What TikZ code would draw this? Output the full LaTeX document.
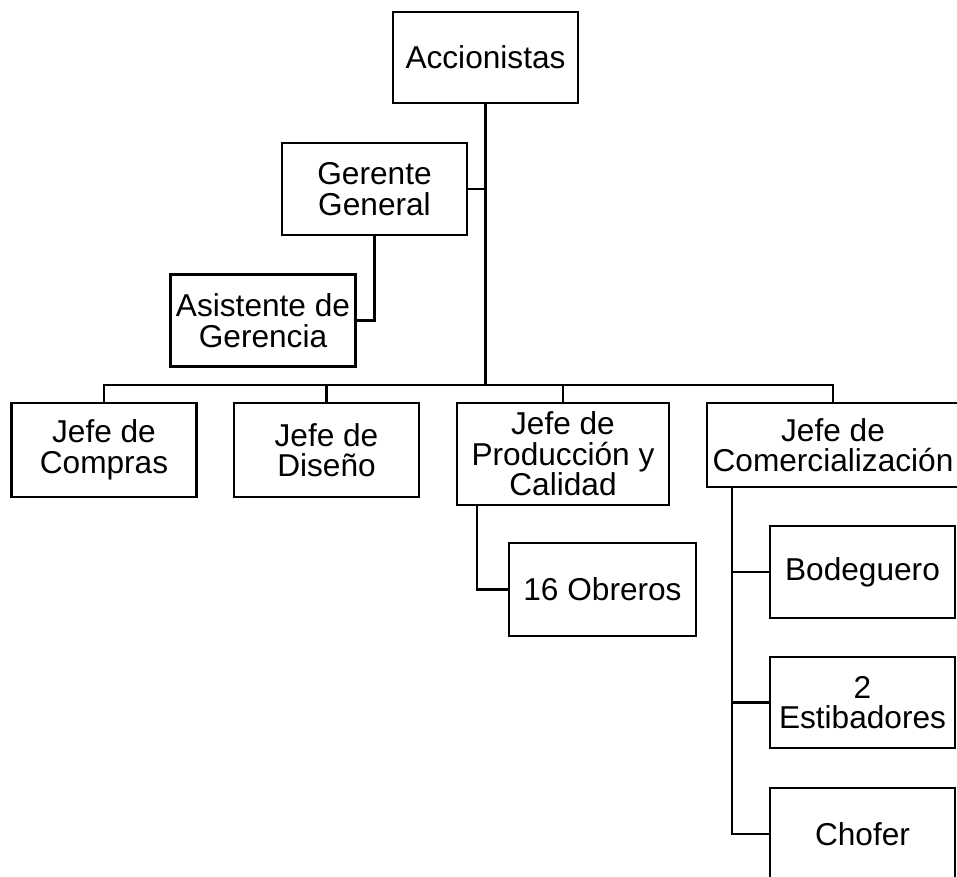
\documentclass[tikz,border=0pt]{standalone}
\usepackage{fontspec}
\setmainfont{Liberation Sans}
\tikzset{
  box/.style={draw, line width=1.3pt, align=center, inner sep=1pt,
    minimum width=3.7cm, minimum height=1.84cm,
    font=\fontsize{18}{17.4}\selectfont},
  wire/.style={line width=1.3pt}
}
\begin{document}
\begin{tikzpicture}[x=0.02cm,y=-0.02cm]
  \useasboundingbox (0,0) rectangle (957,876);
  \node[box, minimum height=1.82cm] (acc) at (485.5,57.5) {Accionistas};
  \node[box] (ger) at (374.5,189) {Gerente\\General};
  \node[box] (asi) at (263,320.5) {Asistente de\\Gerencia};
  \node[box, minimum height=1.88cm] (com) at (104,450) {Jefe de\\Compras};
  \node[box, minimum height=1.88cm] (dis) at (326.5,450) {Jefe de\\Diseño};
  \node[box, minimum width=4.24cm, minimum height=2.04cm] (pro) at (563,454) {Jefe de\\Producción y\\Calidad};
  \node[box, minimum width=5.04cm, minimum height=1.68cm] (cmz) at (833,445) {Jefe de\\Comercialización};
  \node[box, minimum width=3.74cm, minimum height=1.86cm] (obr) at (602.5,589.5) {16 Obreros};
  \node[box] (bod) at (862.5,572) {Bodeguero};
  \node[box, minimum height=1.82cm] (est) at (862.5,702.5) {2\\Estibadores};
  \node[box] (cho) at (862.5,834) {Chofer};
  \coordinate (bus) at (485.5,385);
  \coordinate (prosp) at ([xshift=0.42cm]pro.south west);
  \coordinate (cmzsp) at ([xshift=0.52cm]cmz.south west);
  \draw[wire] (acc.south) -- (bus);
  \draw[wire] (ger.east) -- (ger.east -| acc.south);
  \draw[wire] (ger.south) |- (asi.east);
  \draw[wire] (com.north) |- (bus);
  \draw[wire] (dis.north) |- (bus);
  \draw[wire] (pro.north) |- (bus);
  \draw[wire] (cmz.north) |- (bus);
  \draw[wire] (prosp) |- (obr.west);
  \draw[wire] (cmzsp) |- (cho.west);
  \draw[wire] (bod.west) -- (bod.west -| cmzsp);
  \draw[wire] (est.west) -- (est.west -| cmzsp);
\end{tikzpicture}
\end{document}
